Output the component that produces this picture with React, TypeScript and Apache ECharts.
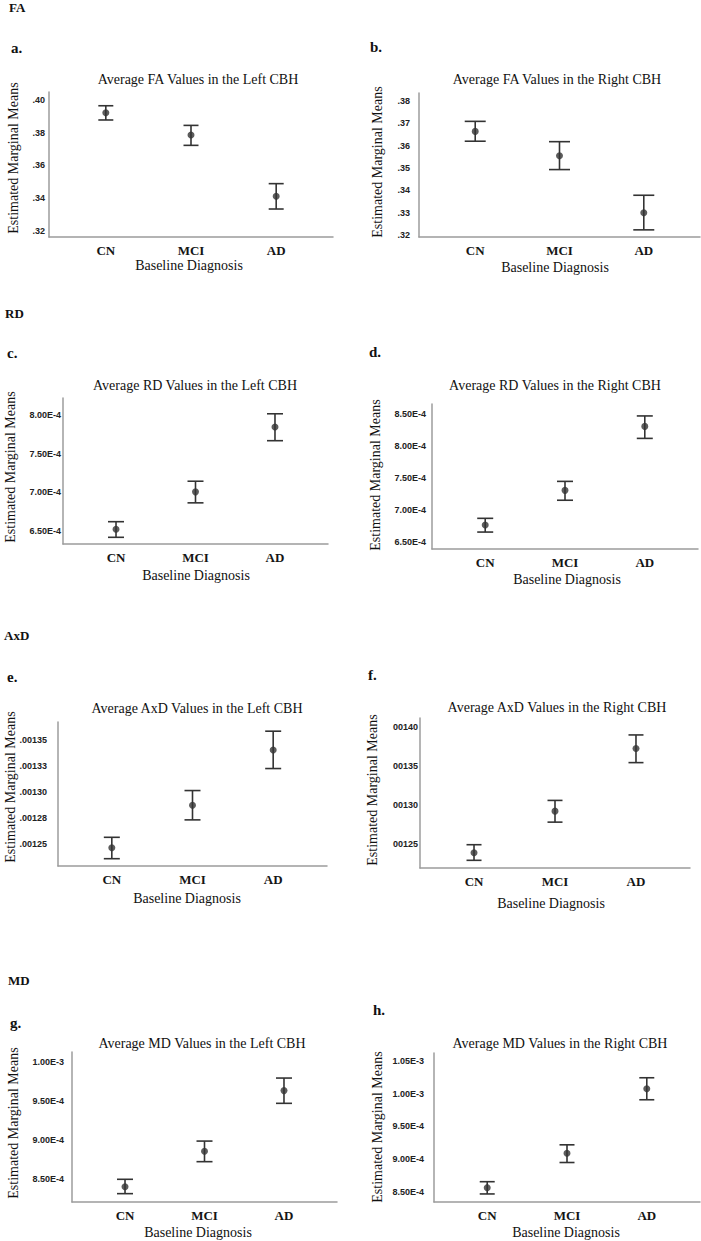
import React, { useEffect, useRef } from "react";
import * as echarts from "echarts";

// ---------- data ----------
const categories = ["CN", "MCI", "AD"];

// a. FA left
const faLeftMeans = [0.3922, 0.3786, 0.3412];
const faLeftUpper = [0.3965, 0.3845, 0.3489];
const faLeftLower = [0.3878, 0.3723, 0.3334];
const faLeftTicks = [0.32, 0.34, 0.36, 0.38, 0.4];
const faLeftTickLabels = [".32", ".34", ".36", ".38", ".40"];

// b. FA right
const faRightMeans = [0.3664, 0.3555, 0.33];
const faRightUpper = [0.3709, 0.3618, 0.3378];
const faRightLower = [0.362, 0.3493, 0.3223];
const faRightTicks = [0.32, 0.33, 0.34, 0.35, 0.36, 0.37, 0.38];
const faRightTickLabels = [".32", ".33", ".34", ".35", ".36", ".37", ".38"];

// c. RD left
const rdLeftMeans = [6.518e-4, 7.005e-4, 7.848e-4];
const rdLeftUpper = [6.617e-4, 7.143e-4, 8.02e-4];
const rdLeftLower = [6.414e-4, 6.862e-4, 7.67e-4];
const rdLeftTicks = [6.5e-4, 7.0e-4, 7.5e-4, 8.0e-4];
const rdLeftTickLabels = ["6.50E-4", "7.00E-4", "7.50E-4", "8.00E-4"];

// d. RD right
const rdRightMeans = [6.77e-4, 7.31e-4, 8.307e-4];
const rdRightUpper = [6.874e-4, 7.45e-4, 8.47e-4];
const rdRightLower = [6.66e-4, 7.156e-4, 8.12e-4];
const rdRightTicks = [6.5e-4, 7.0e-4, 7.5e-4, 8.0e-4, 8.5e-4];
const rdRightTickLabels = ["6.50E-4", "7.00E-4", "7.50E-4", "8.00E-4", "8.50E-4"];

// e. AxD left
const axdLeftMeans = [0.0012467, 0.0012875, 0.0013404];
const axdLeftUpper = [0.0012567, 0.0013015, 0.0013584];
const axdLeftLower = [0.0012362, 0.0012734, 0.0013226];
const axdLeftTicks = [0.00125, 0.001275, 0.0013, 0.001325, 0.00135];
const axdLeftTickLabels = [".00125", ".00128", ".00130", ".00133", ".00135"];

// f. AxD right
const axdRightMeans = [0.0012393, 0.0012923, 0.0013721];
const axdRightUpper = [0.0012495, 0.001306, 0.0013895];
const axdRightLower = [0.0012296, 0.0012783, 0.0013542];
const axdRightTicks = [0.00125, 0.0013, 0.00135, 0.0014];
const axdRightTickLabels = ["00125", "00130", "00135", "00140"];

// g. MD left
const mdLeftMeans = [8.405e-4, 8.859e-4, 9.637e-4];
const mdLeftUpper = [8.5e-4, 8.99e-4, 9.798e-4];
const mdLeftLower = [8.316e-4, 8.726e-4, 9.474e-4];
const mdLeftTicks = [8.5e-4, 9.0e-4, 9.5e-4, 1.0e-3];
const mdLeftTickLabels = ["8.50E-4", "9.00E-4", "9.50E-4", "1.00E-3"];

// h. MD right
const mdRightMeans = [8.566e-4, 9.092e-4, 1.0076e-3];
const mdRightUpper = [8.657e-4, 9.22e-4, 1.0244e-3];
const mdRightLower = [8.47e-4, 8.95e-4, 9.908e-4];
const mdRightTicks = [8.5e-4, 9.0e-4, 9.5e-4, 1.0e-3, 1.05e-3];
const mdRightTickLabels = ["8.50E-4", "9.00E-4", "9.50E-4", "1.00E-3", "1.05E-3"];

const sectionLabels = ["FA", "RD", "AxD", "MD"];
const panelLetters = ["a.", "b.", "c.", "d.", "e.", "f.", "g.", "h."];
const panelTitles = [
  "Average FA Values in the Left CBH",
  "Average FA Values in the Right CBH",
  "Average RD Values in the Left CBH",
  "Average RD Values in the Right CBH",
  "Average AxD Values in the Left CBH",
  "Average AxD Values in the Right CBH",
  "Average MD Values in the Left CBH",
  "Average MD Values in the Right CBH",
];
const xAxisTitle = "Baseline Diagnosis";
const yAxisTitle = "Estimated Marginal Means";

// ---------- layout ----------
const W = 701;
const H = 1241;
const X_MIN = -0.667;
const X_MAX = 2.667;
const SERIF = '"Liberation Serif", "Times New Roman", serif';
const SANS = '"Liberation Sans", Arial, sans-serif';

type Panel = {
  means: number[]; upper: number[]; lower: number[];
  ticks: number[]; tickLabels: string[];
  yMin: number; yMax: number;
  grid: { left: number; top: number; width: number; height: number };
  labelMargin: number; cap: number;
  title: [number, number]; letter: [number, number];
  xName: [number, number]; yName: [number, number];
};

const panels: Panel[] = [
  { means: faLeftMeans, upper: faLeftUpper, lower: faLeftLower, ticks: faLeftTicks, tickLabels: faLeftTickLabels,
    yMin: 0.3163, yMax: 0.4049, grid: { left: 49, top: 92, width: 284, height: 145 }, labelMargin: 4, cap: 15,
    title: [198, 79], letter: [11, 48], xName: [189, 265], yName: [13, 158] },
  { means: faRightMeans, upper: faRightUpper, lower: faRightLower, ticks: faRightTicks, tickLabels: faRightTickLabels,
    yMin: 0.3191, yMax: 0.3836, grid: { left: 419, top: 93, width: 281, height: 144 }, labelMargin: 9, cap: 21,
    title: [557, 79], letter: [370, 47], xName: [555, 267], yName: [377, 162] },
  { means: rdLeftMeans, upper: rdLeftUpper, lower: rdLeftLower, ticks: rdLeftTicks, tickLabels: rdLeftTickLabels,
    yMin: 6.327e-4, yMax: 8.225e-4, grid: { left: 63, top: 398, width: 265, height: 146 }, labelMargin: 2, cap: 16,
    title: [195, 385], letter: [7, 353], xName: [196, 575], yName: [10, 467] },
  { means: rdRightMeans, upper: rdRightUpper, lower: rdRightLower, ticks: rdRightTicks, tickLabels: rdRightTickLabels,
    yMin: 6.396e-4, yMax: 8.656e-4, grid: { left: 432, top: 404, width: 266, height: 145 }, labelMargin: 6, cap: 16,
    title: [555, 385], letter: [369, 352], xName: [567, 579], yName: [375, 475] },
  { means: axdLeftMeans, upper: axdLeftUpper, lower: axdLeftLower, ticks: axdLeftTicks, tickLabels: axdLeftTickLabels,
    yMin: 0.0012292, yMax: 0.0013672, grid: { left: 58, top: 722, width: 269, height: 144 }, labelMargin: 11, cap: 16,
    title: [197, 708], letter: [7, 677], xName: [187, 898], yName: [10, 787] },
  { means: axdRightMeans, upper: axdRightUpper, lower: axdRightLower, ticks: axdRightTicks, tickLabels: axdRightTickLabels,
    yMin: 0.0012198, yMax: 0.0014111, grid: { left: 420, top: 718, width: 270, height: 150 }, labelMargin: 2, cap: 15,
    title: [557, 707], letter: [368, 675], xName: [551, 903], yName: [372, 790] },
  { means: mdLeftMeans, upper: mdLeftUpper, lower: mdLeftLower, ticks: mdLeftTicks, tickLabels: mdLeftTickLabels,
    yMin: 8.209e-4, yMax: 1.0132e-3, grid: { left: 72, top: 1052, width: 265, height: 150 }, labelMargin: 8, cap: 16,
    title: [202, 1043], letter: [10, 1023], xName: [198, 1232], yName: [13, 1123] },
  { means: mdRightMeans, upper: mdRightUpper, lower: mdRightLower, ticks: mdRightTicks, tickLabels: mdRightTickLabels,
    yMin: 8.347e-4, yMax: 1.0622e-3, grid: { left: 434, top: 1053, width: 266, height: 149 }, labelMargin: 10, cap: 15,
    title: [560, 1043], letter: [373, 1010], xName: [566, 1232], yName: [377, 1127] },
];

const sectionPos: [number, number][] = [[9, 7], [5, 313], [4, 635], [8, 980]];

function buildOption() {
  const grid = panels.map((p) => ({ ...p.grid }));
  const axisLineStyle = { color: "#9c9c9c", width: 1.5 };

  const xAxis = panels.map((p, i) => ({
    type: "value",
    gridIndex: i,
    min: X_MIN,
    max: X_MAX,
    axisLine: { show: true, onZero: false, lineStyle: axisLineStyle },
    axisTick: { show: false },
    splitLine: { show: false },
    axisLabel: {
      customValues: categories.map((_, k) => k),
      formatter: (v: number) => categories[Math.round(v)] ?? "",
      margin: 7,
      fontFamily: SERIF,
      fontSize: 13,
      fontWeight: "bold",
      color: "#151515",
    },
  }));

  const yAxis = panels.map((p, i) => ({
    type: "value",
    gridIndex: i,
    min: p.yMin,
    max: p.yMax,
    axisLine: { show: true, onZero: false, lineStyle: axisLineStyle },
    axisTick: { show: false },
    splitLine: { show: false },
    axisLabel: {
      customValues: p.ticks,
      formatter: (v: number) => {
        const idx = p.ticks.findIndex((t) => Math.abs(t - v) < Math.abs(t) * 1e-6);
        return idx >= 0 ? p.tickLabels[idx] : "";
      },
      margin: p.labelMargin,
      fontFamily: SANS,
      fontSize: 9,
      fontWeight: "bold",
      color: "#222",
    },
  }));

  const series: any[] = [];
  panels.forEach((p, i) => {
    const cap = p.cap;
    series.push({
      type: "custom",
      xAxisIndex: i,
      yAxisIndex: i,
      silent: true,
      z: 2,
      encode: { x: 0, y: [1, 2] },
      data: categories.map((_, k) => [k, p.lower[k], p.upper[k]]),
      renderItem: (params: any, api: any) => {
        const x = api.value(0);
        const top = api.coord([x, api.value(2)]);
        const bot = api.coord([x, api.value(1)]);
        const hw = cap / 2;
        const style = { stroke: "#333", lineWidth: 1.6 };
        return {
          type: "group",
          children: [
            { type: "line", shape: { x1: top[0], y1: top[1], x2: bot[0], y2: bot[1] }, style },
            { type: "line", shape: { x1: top[0] - hw, y1: top[1], x2: top[0] + hw, y2: top[1] }, style },
            { type: "line", shape: { x1: bot[0] - hw, y1: bot[1], x2: bot[0] + hw, y2: bot[1] }, style },
          ],
        };
      },
    });
    series.push({
      type: "scatter",
      xAxisIndex: i,
      yAxisIndex: i,
      z: 3,
      symbol: "circle",
      symbolSize: 7,
      itemStyle: { color: "#333" },
      data: categories.map((_, k) => [k, p.means[k]]),
    });
  });

  const texts: any[] = [];
  sectionLabels.forEach((s, i) => {
    texts.push({
      type: "text", x: sectionPos[i][0], y: sectionPos[i][1],
      style: { text: s, fontFamily: SERIF, fontSize: 13, fontWeight: "bold", fill: "#111", align: "left", verticalAlign: "middle" },
    });
  });
  panels.forEach((p, i) => {
    texts.push({
      type: "text", x: p.letter[0], y: p.letter[1],
      style: { text: panelLetters[i], fontFamily: SERIF, fontSize: 15, fontWeight: "bold", fill: "#111", align: "left", verticalAlign: "middle" },
    });
    texts.push({
      type: "text", x: p.title[0], y: p.title[1],
      style: { text: panelTitles[i], fontFamily: SERIF, fontSize: 14, fill: "#111", align: "center", verticalAlign: "middle" },
    });
    texts.push({
      type: "text", x: p.xName[0], y: p.xName[1],
      style: { text: xAxisTitle, fontFamily: SERIF, fontSize: 14, fill: "#111", align: "center", verticalAlign: "middle" },
    });
    texts.push({
      type: "text", x: p.yName[0], y: p.yName[1], rotation: Math.PI / 2,
      style: { text: yAxisTitle, fontFamily: SERIF, fontSize: 14, fill: "#111", align: "center", verticalAlign: "middle" },
    });
  });

  return {
    animation: false,
    backgroundColor: "#fff",
    grid,
    xAxis,
    yAxis,
    series,
    graphic: { elements: texts },
  };
}

export default function App() {
  const ref = useRef<HTMLDivElement>(null);
  useEffect(() => {
    if (!ref.current) return;
    const chart = echarts.init(ref.current, undefined, { renderer: "svg", width: W, height: H });
    chart.setOption(buildOption() as any);
    return () => chart.dispose();
  }, []);
  return (
    <div
      ref={ref}
      style={{ position: "absolute", left: 0, top: 0, width: W, height: H, background: "#fff" }}
    />
  );
}
